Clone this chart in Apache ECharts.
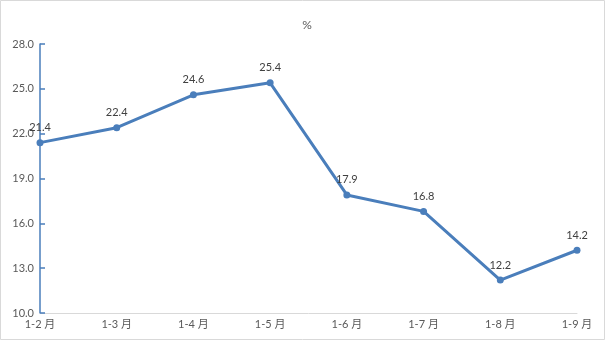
<!DOCTYPE html>
<html><head><meta charset="utf-8">
<script src="https://cdn.jsdelivr.net/npm/echarts@6/dist/echarts.min.js"></script>
<style>html,body{margin:0;padding:0;background:#fff}#c{width:605px;height:340px}</style>
</head><body><div id="c"></div>
<script>
const categories = ['1-2 月','1-3 月','1-4 月','1-5 月','1-6 月','1-7 月','1-8 月','1-9 月'];
const values = [21.4, 22.4, 24.6, 25.4, 17.9, 16.8, 12.2, 14.2];
const yMin = 10, yMax = 28, yStep = 3;
const titleText = '%';

const chart = echarts.init(document.getElementById('c'));
chart.setOption({
  animation: false,
  backgroundColor: '#fff',
  graphic: [{type:'rect', shape:{x:0.5,y:0.5,width:604,height:339}, style:{fill:'none', stroke:'#d9d9d9', lineWidth:1}, silent:true}],
  title: {text: titleText, left: 302, top: 14, textAlign:'center',
    textStyle:{fontSize:12, fontWeight:'normal', color:'#595959', fontFamily:'Lato'}},
  grid: {left: 40, right: 28, top: 44, bottom: 27},
  xAxis: {
    type:'category', data: categories, boundaryGap:false,
    axisLine:{lineStyle:{color:'#d9d9d9', width:1}},
    axisTick:{show:false},
    axisLabel:{color:'#595959', fontSize:11, fontFamily:'Lato, Noto Sans CJK SC', margin:6, interval:0}
  },
  yAxis: {
    type:'value', min:yMin, max:yMax, interval:yStep,
    axisLine:{show:true, lineStyle:{color:'#4a7ebb', width:1.5}},
    axisTick:{show:true, inside:true, length:5, lineStyle:{color:'#4a7ebb', width:1.5}},
    splitLine:{show:false},
    axisLabel:{color:'#595959', fontSize:11, fontFamily:'Lato', margin:6,
      formatter: v => v.toFixed(1)}
  },
  series: [{
    type:'line', data: values,
    symbol:'circle', symbolSize:7,
    lineStyle:{color:'#4a7ebb', width:3},
    itemStyle:{color:'#4a7ebb'},
    label:{show:true, position:'top', distance:6, color:'#404040', fontSize:11, fontFamily:'Lato',
      formatter: p => p.value.toFixed(1)}
  }]
});
</script></body></html>
